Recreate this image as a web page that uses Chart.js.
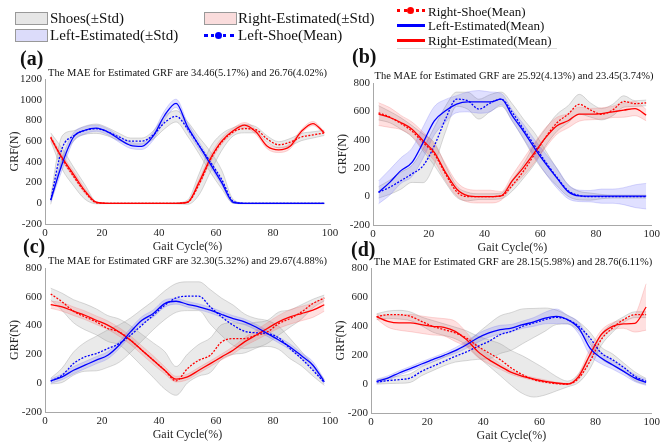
<!DOCTYPE html>
<html lang="en">
<head>
<meta charset="UTF-8">
<script src="https://cdn.jsdelivr.net/npm/chart.js@4.4.0/dist/chart.umd.min.js"></script>
<title>GRF estimation</title>
<style>
  body { margin: 0; background: #fff; font-family: 'Liberation Serif', 'Times New Roman', serif; }
  #page { position: relative; width: 663px; height: 443px; overflow: hidden; }
  canvas { position: absolute; left: 0; top: 0; }
  .t { position: absolute; white-space: nowrap; color: #111; line-height: 1; }
  .lab { font-weight: bold; font-size: 20px; }
  .mae { font-size: 10.5px; text-align: center; }
  .leg1 { font-size: 15px; }
  .leg3 { font-size: 13px; }
  .box { position: absolute; width: 31px; height: 11px; border: 1px solid #999; }
  .solid { position: absolute; height: 3px; }
  .dots { position: absolute; height: 0; border-top: 3px dotted; }
  .mk { position: absolute; width: 7px; height: 7px; border-radius: 50%; }
</style>
</head>
<body>
<div id="page">
  <canvas id="ca" width="663" height="443"></canvas>
  <canvas id="cb" width="663" height="443"></canvas>
  <canvas id="cc" width="663" height="443"></canvas>
  <canvas id="cd" width="663" height="443"></canvas>

  <!-- legend -->
  <div class="box" style="left:15px;top:12px;background:#e6e6e6;"></div>
  <div class="t leg1" style="left:50px;top:11px;">Shoes(±Std)</div>
  <div class="box" style="left:15px;top:29px;background:#dcdcfa;"></div>
  <div class="t leg1" style="left:50px;top:28px;">Left-Estimated(±Std)</div>
  <div class="box" style="left:204px;top:12px;background:#fadcdc;"></div>
  <div class="t leg1" style="left:238px;top:11px;">Right-Estimated(±Std)</div>
  <div class="dots" style="left:204px;top:34px;width:30px;border-color:#00f;"></div>
  <div class="mk" style="left:215px;top:32px;background:#00f;"></div>
  <div class="t leg1" style="left:238px;top:28px;">Left-Shoe(Mean)</div>

  <div class="dots" style="left:397px;top:9px;width:28px;border-color:#f00;"></div>
  <div class="mk" style="left:407px;top:7px;background:#f00;"></div>
  <div class="t leg3" style="left:428px;top:5px;">Right-Shoe(Mean)</div>
  <div class="solid" style="left:397px;top:24px;width:28px;background:#00f;"></div>
  <div class="t leg3" style="left:428px;top:19px;">Left-Estimated(Mean)</div>
  <div class="solid" style="left:397px;top:39px;width:28px;background:#f00;"></div>
  <div class="t leg3" style="left:428px;top:34px;">Right-Estimated(Mean)</div>
  <div style="position:absolute;left:397px;top:48px;width:160px;height:1px;background:#ddd;"></div>

  <!-- panel labels and titles -->
  <div class="t lab" style="left:20px;top:48px;">(a)</div>
  <div class="t mae" style="left:45px;top:68px;width:285px;">The MAE for Estimated GRF are 34.46(5.17%) and 26.76(4.02%)</div>
  <div class="t lab" style="left:352px;top:46px;">(b)</div>
  <div class="t mae" style="left:373px;top:71px;width:282px;">The MAE for Estimated GRF are 25.92(4.13%) and 23.45(3.74%)</div>
  <div class="t lab" style="left:23px;top:236px;">(c)</div>
  <div class="t mae" style="left:45px;top:256px;width:285px;">The MAE for Estimated GRF are 32.30(5.32%) and 29.67(4.88%)</div>
  <div class="t lab" style="left:351px;top:239px;">(d)</div>
  <div class="t mae" style="left:371px;top:257px;width:284px;">The MAE for Estimated GRF are 28.15(5.98%) and 28.76(6.11%)</div>
</div>

<script>
// gait cycle samples (%)
const gaitX = [2,6,10,14,18,22,26,30,34,38,42,46,50,54,58,62,66,70,74,78,82,86,90,94,98];

// (a)
const aLeftShoe     = [30,530,650,705,720,690,640,600,600,660,780,840,720,560,400,230,20,0,0,0,0,0,0,0,0];
const aLeftShoeStd  = [40,120,50,40,45,40,35,30,30,40,60,55,70,80,100,90,20,5,5,5,5,5,5,5,5];
const aLeftEst      = [30,380,640,705,725,690,620,560,550,650,850,965,740,560,380,200,10,0,0,0,0,0,0,0,0];
const aLeftEstStd   = [20,60,40,35,30,30,30,30,30,40,45,40,40,35,30,25,10,3,3,3,3,3,3,3,3];
const aRightShoe    = [640,430,260,110,5,0,0,0,0,0,0,0,10,180,420,590,690,720,710,620,565,590,640,660,680];
const aRightShoeStd = [40,100,90,70,10,3,3,3,3,3,3,5,20,100,120,80,40,40,30,30,30,35,35,30,25];
const aRightEst     = [630,440,280,120,10,0,0,0,0,0,0,0,10,200,430,600,700,755,690,550,515,550,695,770,680];
const aRightEstStd  = [20,30,30,25,5,3,3,3,3,3,3,3,5,30,35,30,25,25,25,25,25,25,20,20,15];

// (b)
const bLeftShoe     = [30,66,112,160,218,358,546,686,675,616,658,686,592,475,358,241,136,42,7,0,0,0,0,0,0];
const bLeftShoeStd  = [40,50,60,60,120,130,90,50,60,70,60,50,60,70,90,80,60,40,30,25,15,10,10,10,10];
const bLeftEst      = [30,100,183,241,382,534,604,651,667,667,667,686,569,460,340,230,130,35,5,3,3,3,3,3,3];
const bLeftEstStd   = [80,90,90,100,110,100,80,60,70,80,70,40,40,50,60,70,70,50,40,40,50,50,60,80,90];
const bRightShoe    = [590,560,515,460,380,300,160,35,0,0,0,5,80,180,300,420,520,580,650,610,580,610,670,655,660];
const bRightShoeStd = [50,40,40,40,60,80,60,40,30,20,20,20,40,50,70,60,60,60,70,50,40,40,40,20,20];
const bRightEst     = [581,557,522,475,393,311,171,54,7,0,0,5,112,206,311,417,499,534,581,581,585,597,609,620,574];
const bRightEstStd  = [80,70,50,50,60,60,60,50,45,45,45,30,40,60,70,70,60,50,50,40,40,40,50,50,40];

// (c)
const cLeftShoe     = [15,55,136,183,206,240,275,333,403,472,541,592,604,604,530,460,403,361,350,345,315,240,170,90,5];
const cLeftShoeStd  = [20,50,80,100,120,130,130,120,110,100,100,100,100,100,120,130,140,120,100,90,80,70,50,40,20];
const cLeftEst      = [15,44,90,125,160,194,264,356,437,484,553,569,548,530,507,477,449,426,390,345,300,252,190,125,10];
const cLeftEstStd   = [15,20,25,25,25,25,25,25,25,25,25,20,20,20,20,20,20,20,20,20,20,20,20,25,15];
const cRightShoe    = [620,565,500,461,426,380,356,299,229,160,90,16,102,160,194,287,310,310,333,356,414,449,495,553,592];
const cRightShoeStd = [40,60,80,90,90,90,90,100,110,120,130,100,100,110,120,120,110,100,90,80,80,60,50,30,20];
const cRightEst     = [545,530,500,472,437,403,356,299,229,160,90,28,44,90,136,183,229,287,333,380,426,460,484,507,545];
const cRightEstStd  = [25,30,30,30,30,30,30,30,30,30,25,20,20,20,20,20,25,30,35,40,45,50,50,50,45];

// (d)
const dLeftShoe     = [14,23,30,41,87,122,156,191,221,260,294,340,363,398,421,444,460,444,398,317,214,168,115,53,18];
const dLeftShoeStd  = [15,20,25,30,30,30,30,40,60,90,120,130,130,120,100,80,50,30,30,40,40,40,30,30,20];
const dLeftEst      = [18,41,76,106,138,168,198,230,271,317,352,375,386,409,428,455,467,444,386,248,179,133,87,41,11];
const dLeftEstStd   = [15,15,15,15,15,15,15,20,25,30,30,30,25,25,30,40,50,30,40,50,40,30,25,25,20];
const dRightShoe    = [464,478,478,467,432,398,375,352,317,260,214,168,110,64,30,14,2,0,41,156,306,386,444,478,478];
const dRightShoeStd = [20,25,30,30,30,40,40,40,50,70,90,110,120,130,120,90,50,20,30,50,40,30,20,20,20];
const dRightEst     = [464,432,421,421,409,398,391,363,306,225,168,122,80,53,34,18,7,0,53,202,340,398,414,418,531];
const dRightEstStd  = [15,40,50,60,60,60,60,70,50,40,30,20,15,10,10,10,5,5,20,40,30,25,30,60,160];

const FONT = "'Liberation Serif', 'Times New Roman', serif";
const INK = '#262626';
const AXIS = '#a8a8a8';

const pts = ys => gaitX.map((x, i) => ({ x: x, y: ys[i] }));
const plus = (m, s) => m.map((v, i) => v + s[i]);
const minus = (m, s) => m.map((v, i) => v - s[i]);

function band(mean, std, fillColor, edgeColor) {
  return [
    { data: pts(plus(mean, std)), borderColor: edgeColor, borderWidth: 0.6, backgroundColor: fillColor, fill: '+1' },
    { data: pts(minus(mean, std)), borderColor: edgeColor, borderWidth: 0.6, fill: false }
  ];
}

function panel(id, area, yMax, leftShoe, leftShoeStd, leftEst, leftEstStd, rightShoe, rightShoeStd, rightEst, rightEstStd) {
  const datasets = [
    { data: pts(leftEst), borderColor: '#0000ff', borderWidth: 1.3, fill: false },
    { data: pts(rightEst), borderColor: '#ff0000', borderWidth: 1.3, fill: false },
    { data: pts(leftShoe), borderColor: '#0000ff', borderWidth: 1.3, borderDash: [2, 1.5], fill: false },
    { data: pts(rightShoe), borderColor: '#ff0000', borderWidth: 1.3, borderDash: [2, 1.5], fill: false },
    ...band(rightEst, rightEstStd, 'rgba(255,0,0,0.12)', 'rgba(240,130,130,0.5)'),
    ...band(leftEst, leftEstStd, 'rgba(0,0,255,0.12)', 'rgba(130,130,240,0.5)'),
    ...band(rightShoe, rightShoeStd, 'rgba(150,150,150,0.2)', 'rgba(150,150,150,0.6)'),
    ...band(leftShoe, leftShoeStd, 'rgba(150,150,150,0.2)', 'rgba(150,150,150,0.6)')
  ];
  new Chart(document.getElementById(id), {
    type: 'line',
    data: { datasets: datasets },
    options: {
      responsive: false,
      animation: false,
      events: [],
      layout: { padding: { left: area.l - 45, right: 663 - area.r, top: area.t, bottom: 443 - area.b - 30 } },
      plugins: { legend: { display: false }, tooltip: { enabled: false } },
      elements: { point: { radius: 0 }, line: { cubicInterpolationMode: 'monotone' } },
      scales: {
        x: {
          type: 'linear', min: 0, max: 100,
          ticks: { stepSize: 20, color: INK, font: { family: FONT, size: 11 }, padding: 3, maxRotation: 0 },
          grid: { display: false, drawTicks: false },
          border: { color: AXIS, width: 1 },
          title: { display: true, text: 'Gait Cycle(%)', color: INK, font: { family: FONT, size: 12 }, padding: 0 },
          afterFit: s => { s.height = 30; }
        },
        y: {
          min: -200, max: yMax,
          ticks: { stepSize: 200, color: INK, font: { family: FONT, size: 11 }, padding: 3, callback: v => String(v) },
          grid: { display: false, drawTicks: false },
          border: { color: AXIS, width: 1 },
          title: { display: true, text: 'GRF(N)', color: INK, font: { family: FONT, size: 12 }, padding: { top: 8, bottom: 0 } },
          afterFit: s => { s.width = 45; }
        }
      }
    }
  });
}

panel('ca', { l: 45, r: 330, t: 79, b: 224 }, 1200, aLeftShoe, aLeftShoeStd, aLeftEst, aLeftEstStd, aRightShoe, aRightShoeStd, aRightEst, aRightEstStd);
panel('cb', { l: 373, r: 655, t: 83, b: 225 }, 800, bLeftShoe, bLeftShoeStd, bLeftEst, bLeftEstStd, bRightShoe, bRightShoeStd, bRightEst, bRightEstStd);
panel('cc', { l: 45, r: 330, t: 268, b: 412 }, 800, cLeftShoe, cLeftShoeStd, cLeftEst, cLeftEstStd, cRightShoe, cRightShoeStd, cRightEst, cRightEstStd);
panel('cd', { l: 371, r: 655, t: 268, b: 413 }, 800, dLeftShoe, dLeftShoeStd, dLeftEst, dLeftEstStd, dRightShoe, dRightShoeStd, dRightEst, dRightEstStd);
</script>
</body>
</html>
